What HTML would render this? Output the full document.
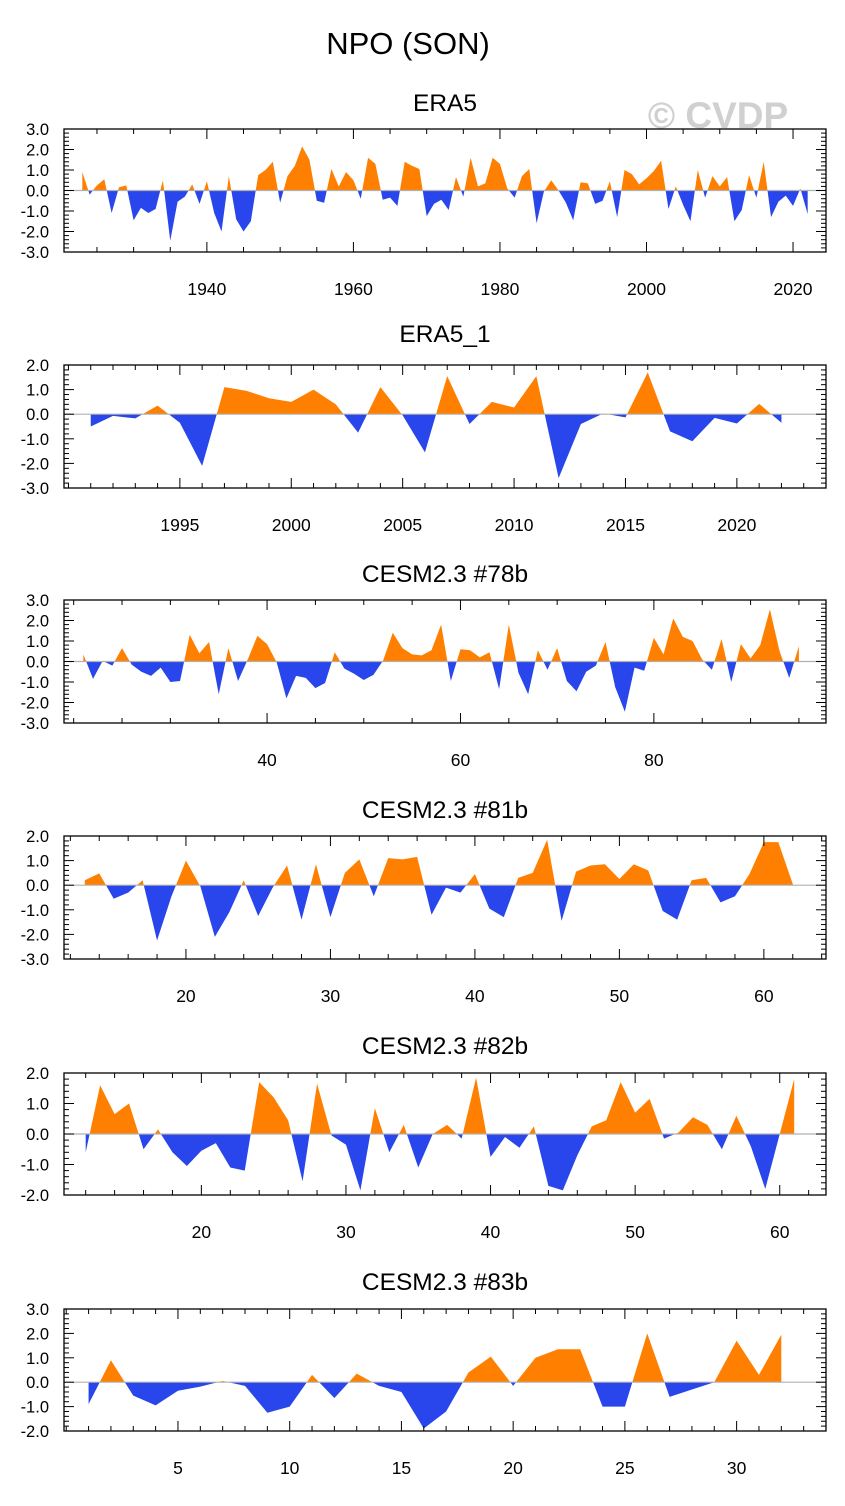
<!DOCTYPE html>
<html><head><meta charset="utf-8"><style>
html,body{margin:0;padding:0;background:#fff;}
svg{display:block;font-family:"Liberation Sans",sans-serif;}
</style></head><body>
<svg id="chart" width="845" height="1506" viewBox="0 0 845 1506" xmlns="http://www.w3.org/2000/svg">
<text x="408" y="54" font-size="31" text-anchor="middle">NPO (SON)</text>
<text x="718" y="128" font-size="37" font-weight="bold" fill="#d0d0d0" text-anchor="middle">© CVDP</text>
</svg>
<script>
const era5Start = 1923;
const era5Values = [0.9,-0.2,0.25,0.55,-1.1,0.15,0.25,-1.45,-0.85,-1.1,-0.9,0.5,-2.45,-0.55,-0.3,0.3,-0.65,0.45,-1.1,-2.0,0.7,-1.4,-2.0,-1.5,0.75,1.0,1.4,-0.6,0.7,1.2,2.15,1.5,-0.5,-0.6,1.05,0.2,0.9,0.5,-0.4,1.6,1.3,-0.45,-0.35,-0.75,1.4,1.2,1.05,-1.25,-0.65,-0.45,-0.95,0.65,-0.3,1.6,0.2,0.35,1.6,1.3,0.1,-0.35,0.7,1.05,-1.6,-0.05,0.5,0.0,-0.6,-1.45,0.4,0.35,-0.65,-0.5,0.45,-1.3,1.0,0.8,0.3,0.6,0.95,1.45,-0.9,0.2,-0.7,-1.5,1.0,-0.35,0.7,0.2,0.65,-1.5,-0.95,0.75,-0.35,1.4,-1.3,-0.55,-0.25,-0.75,0.1,-1.15];
const era5_1Start = 1991;
const era5_1Values = [-0.5,-0.07,-0.17,0.35,-0.35,-2.1,1.1,0.95,0.65,0.5,1.0,0.4,-0.75,1.1,-0.05,-1.55,1.55,-0.4,0.5,0.27,1.55,-2.6,-0.4,0.03,-0.13,1.7,-0.7,-1.1,-0.15,-0.38,0.42,-0.35];
const c78Start = 21;
const c78Values = [0.35,-0.85,0.03,-0.2,0.65,-0.15,-0.5,-0.7,-0.3,-1.0,-0.95,1.3,0.4,0.95,-1.6,0.65,-0.95,0.1,1.25,0.85,-0.05,-1.8,-0.7,-0.8,-1.3,-1.05,0.45,-0.35,-0.6,-0.9,-0.65,0.05,1.4,0.65,0.35,0.3,0.55,1.8,-0.95,0.6,0.55,0.2,0.45,-1.35,1.8,-0.55,-1.6,0.55,-0.4,0.65,-0.95,-1.45,-0.5,-0.2,0.95,-1.25,-2.45,-0.3,-0.45,1.15,0.35,2.1,1.2,1.0,0.1,-0.4,1.1,-1.0,0.85,0.15,0.8,2.55,0.5,-0.8,0.75];
const c81Start = 13;
const c81Values = [0.2,0.48,-0.55,-0.3,0.2,-2.25,-0.45,1.0,-0.05,-2.1,-1.1,0.2,-1.25,-0.1,0.8,-1.4,0.85,-1.3,0.5,1.05,-0.45,1.1,1.05,1.15,-1.2,-0.1,-0.3,0.45,-0.95,-1.3,0.3,0.5,1.85,-1.45,0.55,0.8,0.85,0.25,0.85,0.6,-1.05,-1.4,0.2,0.3,-0.7,-0.45,0.45,1.75,1.75,0.05];
const c82Start = 12;
const c82Values = [-0.6,1.6,0.65,1.0,-0.5,0.15,-0.6,-1.05,-0.55,-0.3,-1.1,-1.2,1.7,1.2,0.45,-1.55,1.65,-0.05,-0.35,-1.85,0.85,-0.6,0.3,-1.1,0.0,0.3,-0.15,1.85,-0.75,-0.1,-0.45,0.25,-1.7,-1.85,-0.7,0.25,0.45,1.7,0.7,1.15,-0.15,0.05,0.55,0.3,-0.5,0.6,-0.4,-1.8,0.0,1.8];
const c83Start = 1;
const c83Values = [-0.9,0.9,-0.55,-0.95,-0.35,-0.18,0.05,-0.15,-1.25,-1.0,0.3,-0.65,0.35,-0.15,-0.4,-1.9,-1.2,0.4,1.05,-0.15,1.0,1.35,1.35,-1.0,-1.0,2.0,-0.6,-0.3,0.0,1.7,0.3,1.95];

const era5XTicks = [1940,1960,1980,2000,2020];
const era5_1XTicks = [1995,2000,2005,2010,2015,2020];
const c78XTicks = [40,60,80];
const c81XTicks = [20,30,40,50,60];
const c82XTicks = [20,30,40,50,60];
const c83XTicks = [5,10,15,20,25,30];

const panels = [
 {name:'era5',title:'ERA5',tY:102,top:129,bot:252,ymax:3,ymin:-3,xmin:1920.5,xmax:2024.5,minor:5,start:era5Start,vals:era5Values,ticks:era5XTicks,lY:295},
 {name:'era5-1',title:'ERA5_1',tY:333,top:365,bot:488,ymax:2,ymin:-3,xmin:1989.8,xmax:2024,minor:1,start:era5_1Start,vals:era5_1Values,ticks:era5_1XTicks,lY:531},
 {name:'cesm-78b',title:'CESM2.3 #78b',tY:573,top:600,bot:723,ymax:3,ymin:-3,xmin:19.0,xmax:97.8,minor:5,start:c78Start,vals:c78Values,ticks:c78XTicks,lY:766},
 {name:'cesm-81b',title:'CESM2.3 #81b',tY:809,top:836,bot:959,ymax:2,ymin:-3,xmin:11.56,xmax:64.3,minor:2,start:c81Start,vals:c81Values,ticks:c81XTicks,lY:1002},
 {name:'cesm-82b',title:'CESM2.3 #82b',tY:1045,top:1073,bot:1195,ymax:2,ymin:-2,xmin:10.5,xmax:63.2,minor:2,start:c82Start,vals:c82Values,ticks:c82XTicks,lY:1238},
 {name:'cesm-83b',title:'CESM2.3 #83b',tY:1281,top:1309,bot:1431,ymax:3,ymin:-2,xmin:-0.1,xmax:34.0,minor:1,start:c83Start,vals:c83Values,ticks:c83XTicks,lY:1474}
];
const NS='http://www.w3.org/2000/svg';
const svg=document.getElementById('chart');
const L=64,R=826;
function mk(tag,attrs,parent){const e=document.createElementNS(NS,tag);for(const k in attrs)e.setAttribute(k,attrs[k]);(parent||svg).appendChild(e);return e;}
panels.forEach((p,pi)=>{
  const g=mk('g',{});
  
  
  const xs=v=>L+(v-p.xmin)/(p.xmax-p.xmin)*(R-L);
  const ys=v=>p.top+(p.ymax-v)/(p.ymax-p.ymin)*(p.bot-p.top);
  const t=mk('text',{x:445,y:p.tY+9,'font-size':24.5,'text-anchor':'middle'},g);
  t.textContent=p.title;
  
  
  const y0=ys(0);
  const pts=p.vals.map((v,i)=>[xs(p.start+i),ys(v)]);
  let d='M'+pts[0][0].toFixed(2)+','+y0.toFixed(2);
  pts.forEach(q=>{d+='L'+q[0].toFixed(2)+','+q[1].toFixed(2);});
  d+='L'+pts[pts.length-1][0].toFixed(2)+','+y0.toFixed(2)+'Z';
  const cpA=mk('clipPath',{id:'ca'+pi},g);mk('rect',{x:L,y:p.top,width:R-L,height:y0-p.top},cpA);
  const cpB=mk('clipPath',{id:'cb'+pi},g);mk('rect',{x:L,y:y0,width:R-L,height:p.bot-y0},cpB);
  const pos=mk('path',{d:d,fill:'#ff8000','clip-path':'url(#ca'+pi+')'},g);
  
  
  const neg=mk('path',{d:d,fill:'#2846eb','clip-path':'url(#cb'+pi+')'},g);
  
  
  const zl=mk('line',{x1:L,x2:R,y1:y0,y2:y0,stroke:'#b0b0b0','stroke-width':1.2},g);
  
  
  for(let v=p.ymin;v<=p.ymax+1e-6;v+=0.2){
    const yy=ys(v);const major=Math.abs(v-Math.round(v))<1e-6;const len=major?10:5;
    mk('line',{x1:L,x2:L+len,y1:yy,y2:yy,stroke:'#000','stroke-width':1},g);
    mk('line',{x1:R,x2:R-len,y1:yy,y2:yy,stroke:'#000','stroke-width':1},g);
    if(major){const lt=mk('text',{x:49,y:yy+6,'font-size':16.5,'text-anchor':'end'},g);lt.textContent=Math.round(v).toFixed(1);
      
      }
  }
  const first=Math.ceil(p.xmin/p.minor)*p.minor;
  for(let v=first;v<=p.xmax;v+=p.minor){
    const xx=xs(v);const major=p.ticks.includes(v);const len=major?10:5;
    mk('line',{x1:xx,x2:xx,y1:p.top,y2:p.top+len,stroke:'#000','stroke-width':1},g);
    mk('line',{x1:xx,x2:xx,y1:p.bot,y2:p.bot-len,stroke:'#000','stroke-width':1},g);
  }
  p.ticks.forEach(v=>{const lt=mk('text',{x:xs(v),y:p.lY,'font-size':17.5,'text-anchor':'middle'},g);lt.textContent=v;
    
    });
  const fr=mk('rect',{x:L,y:p.top,width:R-L,height:p.bot-p.top,fill:'none',stroke:'#000','stroke-width':1.3},g);
  
  
});
</script>
</body></html>
